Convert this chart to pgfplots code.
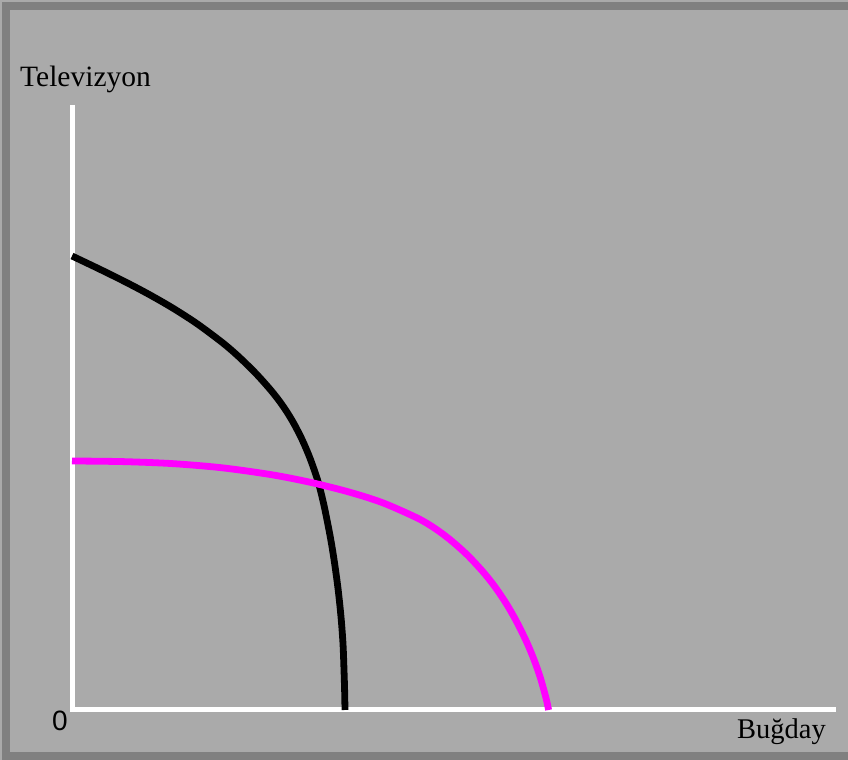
\documentclass[border=0pt]{standalone}
\usepackage{pgfplots}
\pgfplotsset{compat=1.18}
\usepackage{fontspec}
\setmainfont{Liberation Serif}
\newfontfamily\sansf{Liberation Sans}
\definecolor{bglight}{RGB}{170,170,170}
\definecolor{bgdark}{RGB}{128,128,128}
\definecolor{mag}{RGB}{255,0,255}
\begin{document}
\begin{tikzpicture}
\begin{axis}[
  scale only axis, width=848bp, height=760bp,
  xmin=-72, xmax=776, ymin=-50, ymax=710,
  axis lines=none, xtick=\empty, ytick=\empty,
  clip=true,
]
\fill[bglight] (axis cs:-72,-50) rectangle (axis cs:776,710);
\fill[bgdark] (axis cs:-70,-50) rectangle (axis cs:776,708);
\fill[bglight] (axis cs:-62,-42) rectangle (axis cs:776,700);
% axes
\addplot[white, line width=5bp, line join=miter, mark=none] coordinates {(0,605) (0,0) (764,0)};
% black curve
\addplot[black, line width=6.8bp, smooth, tension=0.5, mark=none] coordinates {
(0,454) (25,442.1) (50,429.8) (75,416.7) (100,402.4) (125,386.3) (150,367.7)
(165,354.9) (180,340.5) (190,329.9) (200,318.4) (208,308.1) (215,297.9)
(222,286.2) (230,270.6) (238,251.8) (246,228.6) (252,204.6) (258,174.6)
(262,150.6) (266,121.6) (269,93.1) (271,66.1) (272,40) (272.6,20) (273,0)};
% magenta curve
\addplot[mag, line width=6.8bp, smooth, tension=0.5, mark=none] coordinates {
(0,249) (50,248.4) (100,246.4) (150,242.2) (200,235.2) (240,227.3) (278,217.7)
(311,207.1) (345,192.1) (362,182.2) (378,170.4) (395,155.3) (411,138.2)
(423,123.1) (435,105.2) (445,87.6) (455,67.2) (462,50.3) (468,33.4)
(474,12) (476.6,0)};
\node[anchor=base west, inner sep=0pt, font=\fontsize{29.5bp}{34bp}\selectfont] at (axis cs:-52,623) {Televizyon};
\node[anchor=base west, inner sep=0pt, font=\fontsize{28.5bp}{34bp}\selectfont] at (axis cs:665,-29) {Buğday};
\node[anchor=base west, inner sep=0pt, font=\sansf\fontsize{28bp}{34bp}\selectfont] at (axis cs:-20,-20.7) {0};
\end{axis}
\end{tikzpicture}
\end{document}
